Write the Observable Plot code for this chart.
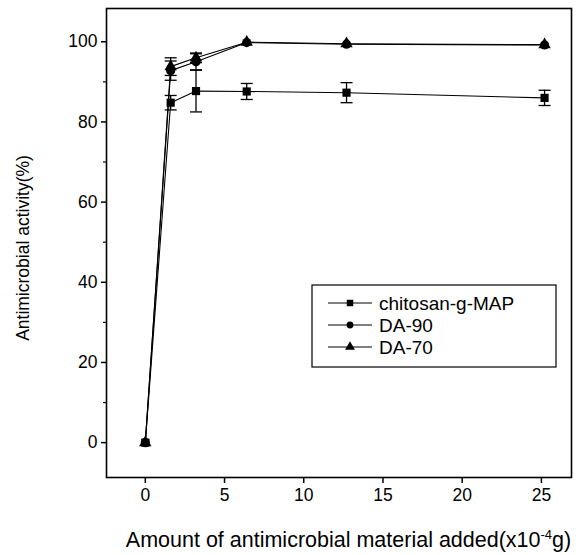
<!DOCTYPE html>
<html>
<head>
<meta charset="utf-8">
<script src="https://cdn.jsdelivr.net/npm/d3@7"></script>
<script src="https://cdn.jsdelivr.net/npm/@observablehq/plot@0.6"></script>
<style>
  body { margin: 0; background: #fff; }
  #chart svg { display: block; }
</style>
</head>
<body>
<div id="chart"></div>
<script>
// Antimicrobial activity versus amount of material added
const amounts = [0, 1.6, 3.2, 6.4, 12.7, 25.2];
const seriesNames = ["chitosan-g-MAP", "DA-90", "DA-70"];
const seriesSymbols = ["square", "circle", "triangle"];
const chitosanActivity = [0, 84.8, 87.7, 87.6, 87.3, 86.0];
const chitosanError = [0, 1.8, 5.2, 2.0, 2.5, 1.9];
const da90Activity = [0, 92.8, 95.0, 99.8, 99.4, 99.2];
const da90Error = [0, 2.4, 2.0, 0, 0, 0];
const da70Activity = [0, 93.8, 96.0, 99.9, 99.5, 99.3];
const da70Error = [0, 2.2, 1.2, 0, 0, 0];
const xTicks = [0, 5, 10, 15, 20, 25];
const yTicks = [0, 20, 40, 60, 80, 100];
const yMinorTicks = [10, 30, 50, 70, 90];

const font = "'Liberation Sans', Arial, Helvetica, sans-serif";

const activities = [chitosanActivity, da90Activity, da70Activity];
const errors = [chitosanError, da90Error, da70Error];
const rows = seriesNames.flatMap((name, s) =>
  amounts.map((x, i) => ({
    series: name,
    symbol: seriesSymbols[s],
    x,
    y: activities[s][i],
    err: errors[s][i]
  }))
);
const withError = rows.filter(d => d.err > 0);

// horizontal cap drawn at each end of an error bar
const capSymbol = {
  draw(context) {
    context.moveTo(-6, 0);
    context.lineTo(6, 0);
  }
};

// boxed legend inside the plotting area
function legendMark(index, scales, values, dimensions) {
  const g = d3.create("svg:g")
    .attr("font-family", font)
    .attr("font-size", 19)
    .attr("text-anchor", "start");
  const box = {x: 312, y: 285, w: 244, h: 82};
  g.append("rect")
    .attr("x", box.x).attr("y", box.y)
    .attr("width", box.w).attr("height", box.h)
    .attr("fill", "white").attr("stroke", "black").attr("stroke-width", 1.2);
  const symbolTypes = {square: d3.symbolSquare, circle: d3.symbolCircle, triangle: d3.symbolTriangle};
  const symbolSizes = {square: 42, circle: 36, triangle: 42};
  seriesNames.forEach((name, i) => {
    const cy = box.y + 18 + i * 22;
    g.append("line")
      .attr("x1", box.x + 16).attr("x2", box.x + 60)
      .attr("y1", cy).attr("y2", cy)
      .attr("stroke", "black").attr("stroke-width", 1);
    g.append("path")
      .attr("transform", `translate(${box.x + 38},${cy})`)
      .attr("d", d3.symbol(symbolTypes[seriesSymbols[i]], symbolSizes[seriesSymbols[i]])())
      .attr("fill", "black");
    g.append("text")
      .attr("x", box.x + 67).attr("y", cy)
      .attr("dy", "0.35em")
      .text(name);
  });
  return g.node();
}

// x axis title with a raised exponent
function xTitleMark(index, scales, values, dimensions) {
  const {width, marginLeft, marginRight, height} = dimensions;
  const t = d3.create("svg:text")
    .attr("font-family", font)
    .attr("font-size", 21.5)
    .attr("text-anchor", "middle")
    .attr("x", marginLeft + (width - marginLeft - marginRight) / 2 + 10)
    .attr("y", height - 8);
  t.append("tspan").text("Amount of antimicrobial material added(x10");
  t.append("tspan").attr("font-size", 13).attr("dy", -8).text("-4");
  t.append("tspan").attr("dy", 8).text("g)");
  return t.node();
}

const chart = Plot.plot({
  width: 583,
  height: 555,
  marginLeft: 106,
  marginRight: 12,
  marginTop: 8,
  marginBottom: 78,
  style: {fontFamily: font, fontSize: "17.5px", color: "black", background: "white"},
  x: {domain: [-2.45, 26.9]},
  y: {domain: [-8.7, 108.3]},
  symbol: {domain: seriesNames, range: seriesSymbols},
  marks: [
    Plot.axisX({ticks: xTicks, tickSize: 6, tickPadding: 5, fontSize: 17.5, label: null, strokeWidth: 1.5}),
    Plot.axisY({ticks: yTicks, tickSize: 5, tickPadding: 4, fontSize: 17.5, strokeWidth: 1.5,
      label: "Antimicrobial activity(%)", labelAnchor: "center", labelArrow: "none", labelOffset: 90}),
    Plot.axisY({ticks: yMinorTicks, tickSize: 3, tickFormat: () => "", label: null, strokeWidth: 1.2}),
    Plot.frame({stroke: "black", strokeWidth: 1.6}),
    Plot.line(rows, {x: "x", y: "y", z: "series", stroke: "black", strokeWidth: 1.1}),
    Plot.ruleX(withError, {x: "x", y1: d => d.y - d.err, y2: d => d.y + d.err, stroke: "black", strokeWidth: 1.3}),
    Plot.dot(withError, {x: "x", y: d => d.y - d.err, symbol: () => capSymbol, stroke: "black", strokeWidth: 1.3}),
    Plot.dot(withError, {x: "x", y: d => d.y + d.err, symbol: () => capSymbol, stroke: "black", strokeWidth: 1.3}),
    Plot.dot(rows, {x: "x", y: "y", symbol: "series", fill: "black", stroke: "none", r: 4.6}),
    legendMark,
    xTitleMark
  ]
});

// y axis title size, centred a little lower along the axis
d3.select(chart).selectAll("[aria-label='y-axis label'] text")
  .attr("font-size", 17.5)
  .attr("x", -5);

document.getElementById("chart").appendChild(chart);
</script>
</body>
</html>
